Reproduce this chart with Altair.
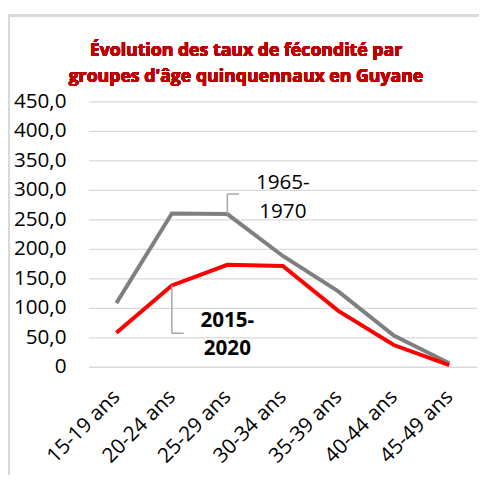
import altair as alt
import pandas as pd

ages = ["15-19 ans", "20-24 ans", "25-29 ans", "30-34 ans", "35-39 ans", "40-44 ans", "45-49 ans"]
taux_1965 = [108, 260, 259, 188, 128, 53, 6]
taux_2015 = [58, 138, 173, 171, 95, 37, 3]
series = ["1965-1970", "2015-2020"]
colors = ["#7f7f7f", "#ff0000"]
y_ticks = [0, 50, 100, 150, 200, 250, 300, 350, 400, 450]

title_lines = ["Évolution des taux de fécondité par", "groupes d'âge quinquennaux en Guyane"]

# label annotations (text, category, value)
lab_gray = pd.DataFrame({"age": ["30-34 ans", "30-34 ans"], "taux": [312, 262], "text": ["1965-", "1970"]})
lab_red = pd.DataFrame({"age": ["25-29 ans", "25-29 ans"], "taux": [77, 30], "text": ["2015-", "2020"]})
# leader lines
lead_v = pd.DataFrame({"age": ["25-29 ans", "20-24 ans"], "y1": [259, 138], "y2": [293, 57]})
lead_h = pd.DataFrame({"age": ["25-29 ans", "20-24 ans"], "y1": [293, 57]})

df = pd.DataFrame({
    "age": ages * 2,
    "taux": taux_1965 + taux_2015,
    "periode": [series[0]] * len(ages) + [series[1]] * len(ages),
})

FONT = "Open Sans"
xscale = alt.Scale(type="point", domain=ages, padding=0.5)
yscale = alt.Scale(domain=[0, 450])

x_axis = alt.Axis(labelAngle=-45, labelAlign="right", labelBaseline="middle",
                  labelPadding=27, domain=False, ticks=False, grid=False,
                  labelFontSize=21, labelFont=FONT, labelColor="#000000",
                  labelOverlap=False)
y_axis = alt.Axis(values=y_ticks, domain=False, ticks=False, grid=True,
                  gridColor="#d9d9d9", gridWidth=1.5, labelPadding=23,
                  labelFontSize=21, labelFont=FONT, labelColor="#000000",
                  labelOverlap=False,
                  labelExpr="datum.value == 0 ? '0' : replace(format(datum.value, '.1f'), '.', ',')")

def xa(field):
    return alt.X(field, scale=xscale, axis=x_axis, title=None)

def ya(field):
    return alt.Y(field, scale=yscale, axis=y_axis, title=None)

frame = alt.Chart(df).mark_rect(fill="transparent", stroke="#d9d9d9", strokeWidth=2).encode(
    x=alt.value(-81), x2=alt.value(430), y=alt.value(-87), y2=alt.value(430))

t1 = alt.Chart(df).mark_text(font=FONT, fontSize=18, fontWeight="bold", color="#c00000",
                             align="center", baseline="alphabetic").encode(
    x=alt.value(160), y=alt.value(-46), text=alt.value(title_lines[0]))
t2 = alt.Chart(df).mark_text(font=FONT, fontSize=18, fontWeight="bold", color="#c00000",
                             align="center", baseline="alphabetic").encode(
    x=alt.value(160), y=alt.value(-20), text=alt.value(title_lines[1]))

lines = alt.Chart(df).mark_line(strokeWidth=4).encode(
    x=xa("age:N"), y=ya("taux:Q"),
    color=alt.Color("periode:N", scale=alt.Scale(domain=series, range=colors), legend=None))

rv = alt.Chart(lead_v).mark_rule(color="#a6a6a6", strokeWidth=1.5).encode(
    x=xa("age:N"), y=ya("y1:Q"), y2="y2:Q")
rh = alt.Chart(lead_h).mark_rule(color="#a6a6a6", strokeWidth=1.5, x2Offset=12).encode(
    x=xa("age:N"), x2="age:N", y=ya("y1:Q"))

tg = alt.Chart(lab_gray).mark_text(font=FONT, fontSize=21, color="#000000").encode(
    x=xa("age:N"), y=ya("taux:Q"), text="text:N")
tr = alt.Chart(lab_red).mark_text(font=FONT, fontSize=21, fontWeight="bold", color="#000000").encode(
    x=xa("age:N"), y=ya("taux:Q"), text="text:N")

chart = alt.layer(frame, t1, t2, lines, rv, rh, tg, tr).properties(
    width=395, height=270,
    autosize=alt.AutoSizeParams(type="none"),
    padding={"left": 82, "top": 91, "right": 2, "bottom": 106},
).configure(background="white").configure_view(stroke=None)

chart.save("out.html", embed_options={"renderer": "svg", "actions": False})
